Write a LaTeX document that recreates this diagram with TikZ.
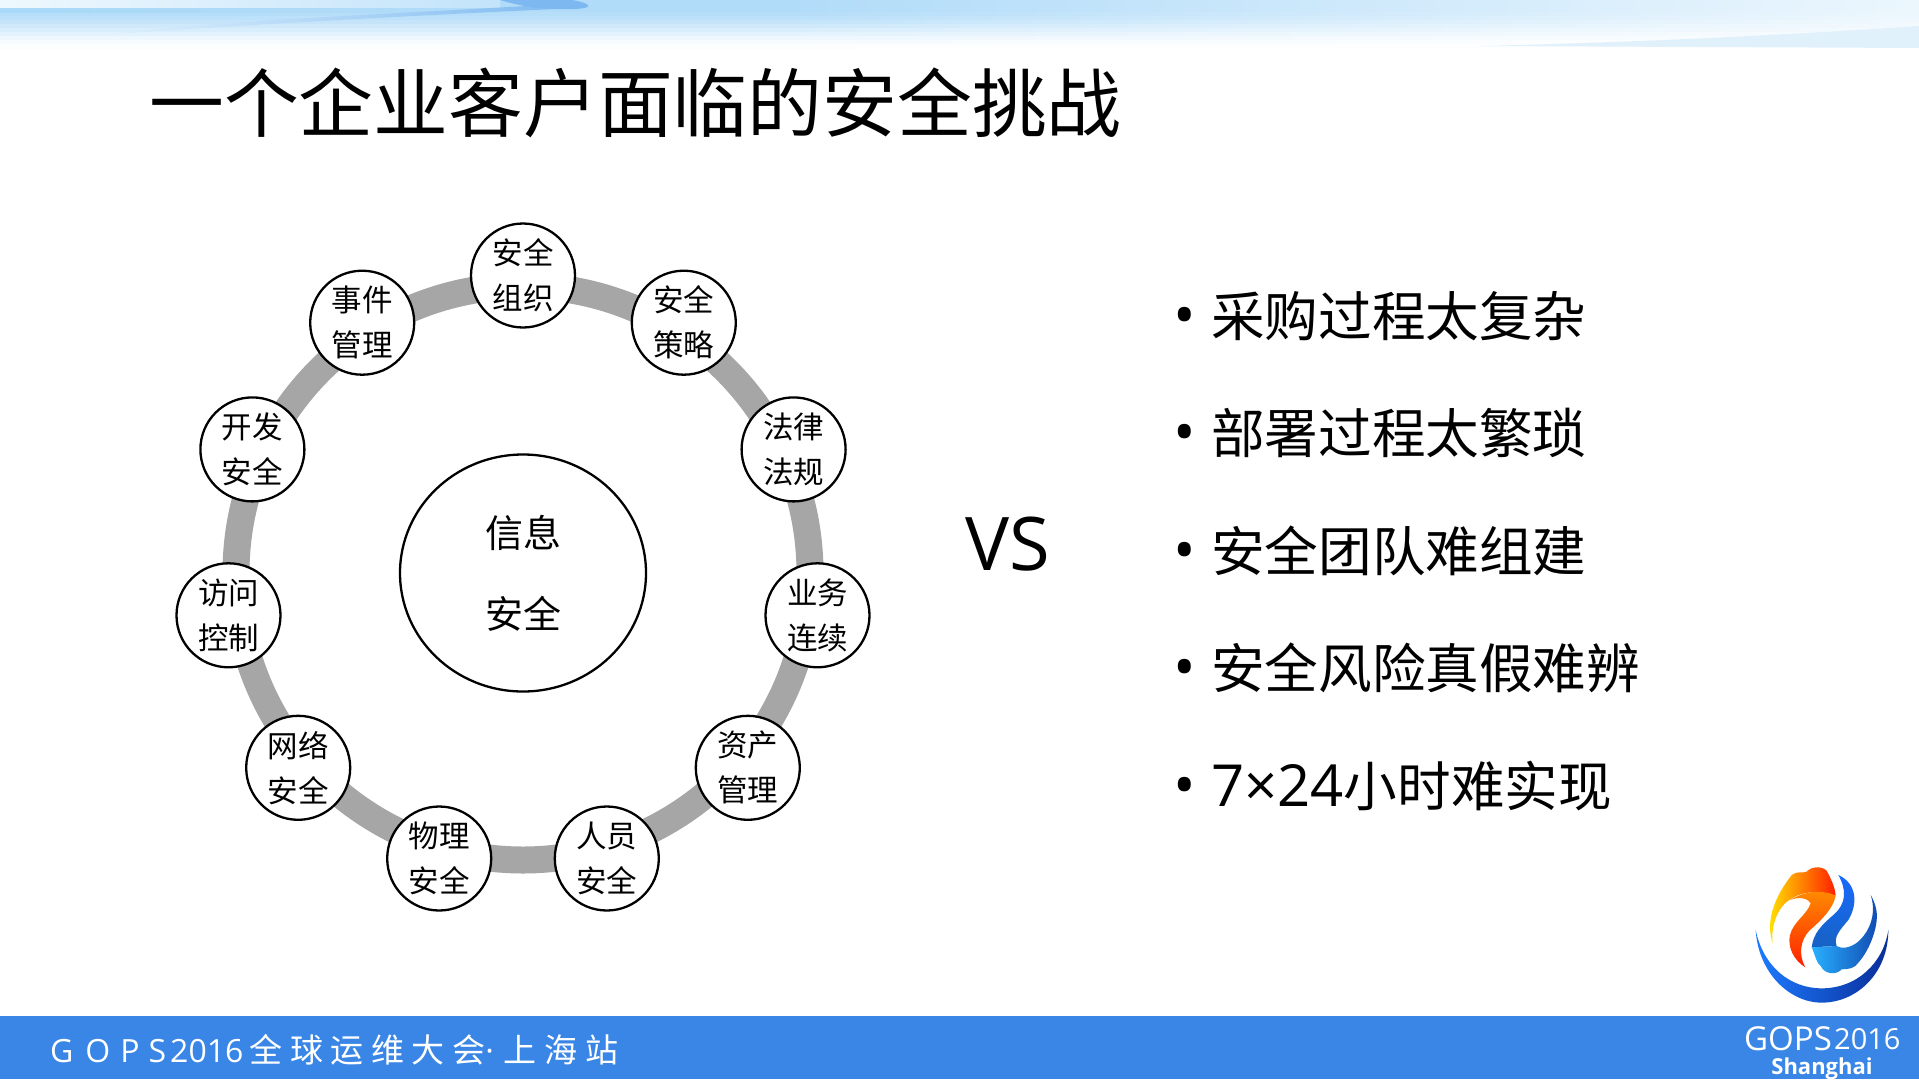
\documentclass[tikz,border=0pt]{standalone}
\usepackage{fontspec}
\setmainfont{Noto Sans CJK SC}
\newfontfamily\latinfont{Open Sans}
\newfontfamily\gapfont[LetterSpace=23]{Noto Sans CJK SC}
\usetikzlibrary{shapes.geometric}

\definecolor{barblue}{HTML}{3A86E6}
\definecolor{ringgray}{HTML}{A6A6A6}
\definecolor{bandblue}{HTML}{A9D8F8}
\definecolor{streakblue}{HTML}{7DB9F0}
\newcommand{\itemdot}{\makebox[38pt][l]{\latinfont\fontsize{60}{60}\selectfont •}}

\tikzset{
    topic/.style={draw, circle, fill=white, line width=2.3pt, minimum size=104pt, inner sep=0pt, align=center, font=\fontsize{30.5}{45}\selectfont},
    itemline/.style={anchor=west, inner sep=0pt, font=\fontsize{53.6}{60}\selectfont},
    bartext/.style={anchor=west, inner sep=0pt, text=white}
}

\begin{document}
\begin{tikzpicture}[x=1pt, y=-1pt]
        \useasboundingbox (0,0) rectangle (1919,1079);
        \fill[white] (0,0) rectangle (1919,1079);

        % top band
        \foreach \y/\p in {0/90,4/90,8/90,12/85,16/78,20/68,24/56,28/44,32/32,36/20,40/10,44/4} {
            \fill[bandblue!\p!white] (0,\y) rectangle (800,\y+4.5);
            \shade[left color=bandblue!\p!white, right color=bandblue!\p!white!25!white] (800,\y) rectangle (1919,\y+4.5);
        }
        \shade[left color=white!80!bandblue, right color=bandblue!70!white] (0,0) rectangle (500,8);
        \shade[left color=bandblue, middle color=streakblue!60!bandblue, right color=bandblue!90!white] (0,8) rectangle (520,12);
        \shade[left color=bandblue!40!white, right color=streakblue] (112,34) .. controls (220,20) and (400,14) .. (576,3) -- (578,8) .. controls (420,15) and (260,24) .. (112,34) -- cycle;
        \fill[streakblue] (500,0) -- (572,0) .. controls (590,3) and (596,8) .. (575,9) .. controls (540,10) and (520,6) .. (500,0) -- cycle;
        \fill[bandblue!35!white] (1480,46) .. controls (1650,42) and (1800,34) .. (1919,26) -- (1919,48) -- cycle;

        % title
        \node[anchor=west, inner sep=0pt, font=\fontsize{74.8}{80}\selectfont] (title) at (149,103) {一个企业客户面临的安全挑战};

        % ring
        \coordinate (hub) at (523,573);
        \draw[ringgray, line width=27pt] (hub) circle (287);

        \node[draw, ellipse, line width=2.3pt, minimum width=246pt, minimum height=237pt, inner sep=0pt, align=center, font=\fontsize{38}{81}\selectfont] (infosec) at (hub) {信息\\安全};

        \node[topic] (org) at (523,275.5) {安全\\组织};
        \node[topic] (policy) at (683.8,322.7) {安全\\策略};
        \node[topic] (law) at (793.6,449.4) {法律\\法规};
        \node[topic] (bcp) at (817.5,615.3) {业务\\连续};
        \node[topic] (asset) at (747.8,767.8) {资产\\管理};
        \node[topic] (staff) at (606.8,858.5) {人员\\安全};
        \node[topic] (phys) at (439.2,858.5) {物理\\安全};
        \node[topic] (net) at (298.2,767.8) {网络\\安全};
        \node[topic] (access) at (228.5,615.3) {访问\\控制};
        \node[topic] (dev) at (252.4,449.4) {开发\\安全};
        \node[topic] (event) at (362.2,322.7) {事件\\管理};

        \node[font=\latinfont\fontsize{74}{76}\selectfont, inner sep=0pt] (vs) at (1008,544) {VS};

        % list on the right
        \node[itemline] (item1) at (1173,316) {\itemdot 采购过程太复杂};
        \node[itemline] (item2) at (1173,433) {\itemdot 部署过程太繁琐};
        \node[itemline] (item3) at (1173,551) {\itemdot 安全团队难组建};
        \node[itemline] (item4) at (1173,668) {\itemdot 安全风险真假难辨};
        \node[itemline] (item5) at (1173,786) {\itemdot {\latinfont\fontsize{58}{60}\selectfont 7×24}小时难实现};

        % footer
        \fill[barblue] (0,1016) rectangle (1919,1079);
        \node[bartext, font=\latinfont\fontsize{32}{34}\selectfont] (bar) at (50,1050) {G\hspace{12pt}O\hspace{10pt}P\hspace{9pt}S\hspace{4pt}2016\hspace{6pt}{\gapfont\fontsize{33}{34}\selectfont 全球运维大会}·\hspace{10pt}{\gapfont\fontsize{33}{34}\selectfont 上海站}};
        \node[bartext, font=\latinfont\fontsize{33}{34}\selectfont] (gops) at (1744,1039) {GOPS};
        \node[bartext, font=\latinfont\fontsize{29}{34}\selectfont] (year) at (1834,1039) {2016};
        \node[text=white, inner sep=0pt, font=\latinfont\bfseries\fontsize{22}{24}\selectfont] (city) at (1822,1069) {Shanghai};

        % logo
        \definecolor{wavelight}{HTML}{29B0FF}
        \definecolor{wavedark}{HTML}{0A2E9A}
        \begin{scope}[shift={(1700,840)}, x=.3333pt, y=-.3333pt]
            \shade[left color=wavelight!70!blue, middle color=wavelight, right color=wavedark] (167,270) .. controls (175,400) and (270,488) .. (365,488) .. controls (470,488) and (565,400) .. (565,270) .. controls (550,370) and (470,445) .. (365,445) .. controls (270,445) and (190,380) .. (167,270) -- cycle;
            \shade[left color=yellow!85!orange, right color=red!75!orange] (218,310) .. controls (195,240) and (225,170) .. (275,105) .. controls (290,92) and (310,100) .. (320,95) .. controls (335,78) and (365,78) .. (380,92) .. controls (392,115) and (405,140) .. (407,167) .. controls (360,150) and (300,150) .. (255,190) .. controls (230,215) and (212,260) .. (218,310) -- cycle;
            \shade[top color=orange!90!yellow, bottom color=red!75!orange] (407,167) .. controls (400,205) and (365,240) .. (330,270) .. controls (300,300) and (295,345) .. (316,382) .. controls (280,360) and (262,320) .. (270,285) .. controls (280,245) and (320,225) .. (332,190) .. controls (320,170) and (290,172) .. (270,180) .. controls (320,150) and (370,150) .. (407,167) -- cycle;
            \shade[top color=wavelight!60!blue, bottom color=wavedark!60!wavelight] (415,105) .. controls (440,150) and (440,190) .. (400,225) .. controls (365,255) and (340,280) .. (335,322) -- (410,318) .. controls (400,290) and (420,270) .. (445,240) .. controls (475,190) and (470,130) .. (415,105) -- cycle;
            \shade[left color=wavelight, right color=wavedark!80!wavelight] (335,322) .. controls (345,345) and (350,370) .. (362,378) .. controls (375,405) and (410,405) .. (425,388) .. controls (445,388) and (465,385) .. (475,368) .. controls (510,330) and (540,250) .. (528,205) .. controls (525,190) and (518,175) .. (512,165) .. controls (530,220) and (510,270) .. (480,300) .. controls (460,320) and (430,330) .. (410,318) -- cycle;
        \end{scope}
    \end{tikzpicture}
\end{document}
